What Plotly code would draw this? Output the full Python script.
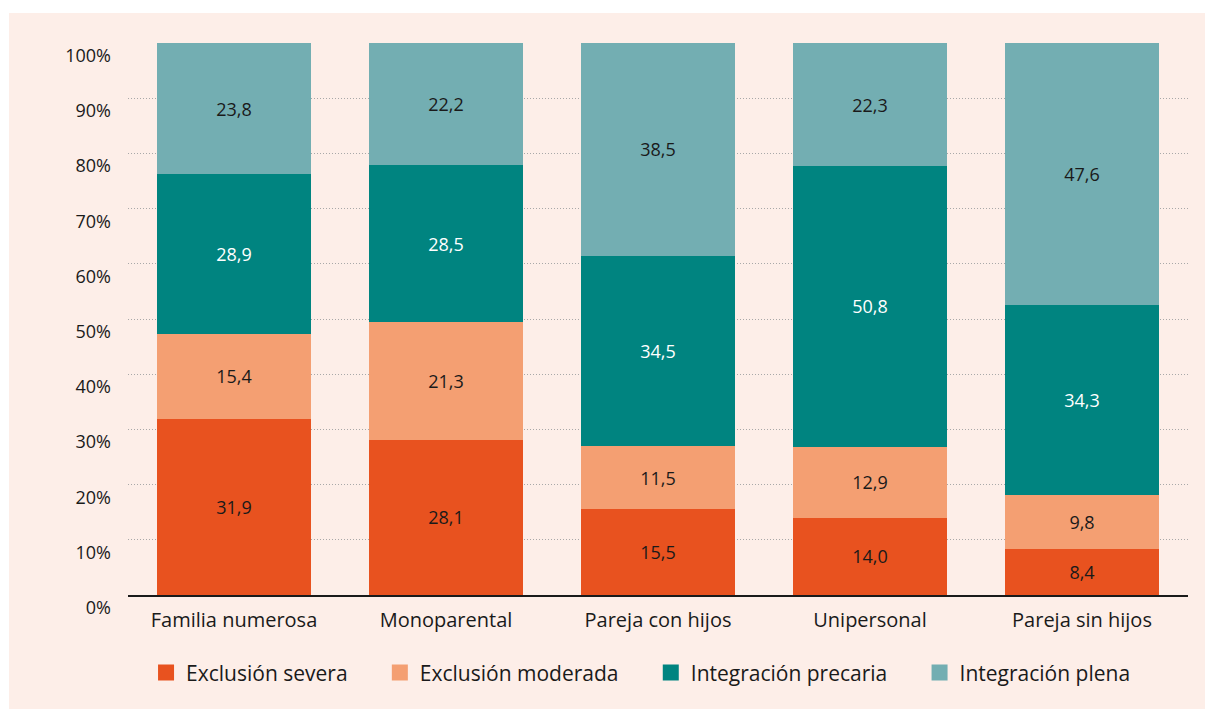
import plotly.graph_objects as go

categories = ["Familia numerosa", "Monoparental", "Pareja con hijos", "Unipersonal", "Pareja sin hijos"]
series_names = ["Exclusión severa", "Exclusión moderada", "Integración precaria", "Integración plena"]
exclusion_severa = [31.9, 28.1, 15.5, 14.0, 8.4]
exclusion_moderada = [15.4, 21.3, 11.5, 12.9, 9.8]
integracion_precaria = [28.9, 28.5, 34.5, 50.8, 34.3]
integracion_plena = [23.8, 22.2, 38.5, 22.3, 47.6]
tick_vals = [0, 10, 20, 30, 40, 50, 60, 70, 80, 90, 100]
tick_text = ["0%", "10%", "20%", "30%", "40%", "50%", "60%", "70%", "80%", "90%", "100%"]

colors = ["#E8521F", "#F49F72", "#008480", "#73AEB2"]
text_colors = ["#1a1a1a", "#1a1a1a", "#ffffff", "#1a1a1a"]
bg = "#FDEEE8"
FONT = "Open Sans"
PAD = "\u00a0" * 5

fig = go.Figure()
all_series = [exclusion_severa, exclusion_moderada, integracion_precaria, integracion_plena]
for i, (name, vals, col, tcol) in enumerate(zip(series_names, all_series, colors, text_colors)):
    fig.add_trace(go.Bar(
        x=categories, y=vals, name=name, marker=dict(color=col, line=dict(width=0)),
        texttemplate="%{y:.1f}", textposition="inside", insidetextanchor="middle",
        textfont=dict(color=tcol, size=18, family=FONT), showlegend=False,
        hoverinfo="skip", legendgroup=name,
    ))
    fig.add_trace(go.Scatter(
        x=[None], y=[None], mode="markers",
        name=name + (PAD if i < len(series_names) - 1 else ""), legendgroup=name,
        marker=dict(symbol="square", size=16, color=col), showlegend=True,
    ))

# white strips at the top and left edges; the rest of the page is the pink panel
fig.add_shape(type="rect", xref="paper", yref="paper",
              x0=-0.2, x1=1.1, y0=(595 - 13) / 552, y1=1.2,
              fillcolor="white", line=dict(width=0), layer="below")
fig.add_shape(type="rect", xref="paper", yref="paper",
              x0=-0.2, x1=(9 - 128) / 1060, y0=-0.3, y1=1.2,
              fillcolor="white", line=dict(width=0), layer="below")

fig.update_layout(
    width=1205, height=709,
    barmode="stack", bargap=0.277,
    separators=",.",
    paper_bgcolor=bg, plot_bgcolor="rgba(0,0,0,0)",
    margin=dict(l=128, r=17, t=43, b=114),
    font=dict(family=FONT, color="#1a1a1a"),
    legend=dict(orientation="h", x=0.484, xanchor="center", y=-0.141, yanchor="middle",
                font=dict(size=21, family=FONT), bgcolor="rgba(0,0,0,0)",
                itemsizing="trace", traceorder="normal"),
    xaxis=dict(showline=True, linecolor="#1a1a1a", linewidth=1.5, ticks="",
               tickfont=dict(size=20, family=FONT), showgrid=False,
               ticklabelstandoff=6),
    yaxis=dict(range=[0, 100], tickvals=tick_vals, ticktext=tick_text,
               tickfont=dict(size=18, family=FONT), showgrid=True,
               gridcolor="#a8a8a8", griddash="1px,2px", gridwidth=1, zeroline=False,
               ticklabelposition="outside bottom", ticklabelstandoff=16),
)

fig.write_html("out.html", config={"displayModeBar": False},
               post_script="document.body.style.margin='0';document.body.style.overflow='hidden';")
